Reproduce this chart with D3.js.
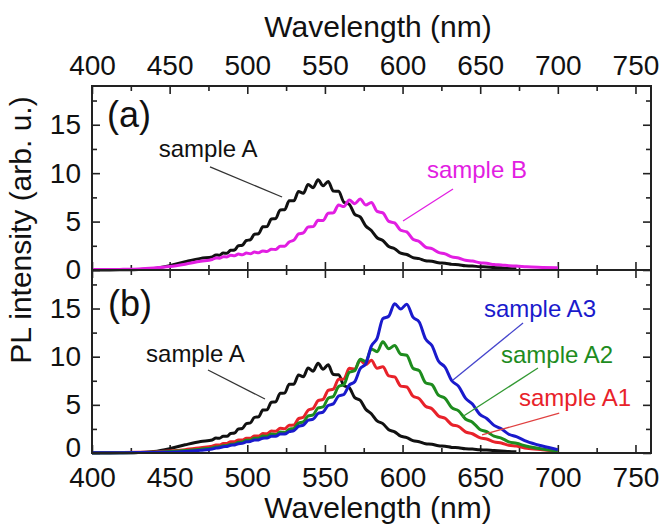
<!DOCTYPE html>
<html>
<head>
<meta charset="utf-8">
<script src="https://cdn.jsdelivr.net/npm/d3@7"></script>
<style>
  body { margin: 0; background: #fff; }
  svg text { font-family: "Liberation Sans", Arial, sans-serif; }
</style>
</head>
<body>
<script>
//Data: wavelength grid (nm), points placed on fringe maxima/minima in the ripple region
const wavelength = [400, 410, 420, 430, 440, 450, 460, 470,
  477.4, 479.8, 482.1, 484.5, 486.9, 489.3, 491.8, 494.3, 496.8, 499.4,
  502.0, 504.6, 507.3, 510.0, 512.7, 515.5, 518.3, 521.2, 524.1, 527.0,
  530.0, 533.0, 536.1, 539.2, 542.4, 545.6, 548.8, 552.1, 555.4, 558.8,
  562.2, 565.7, 569.2, 572.7, 576.3, 579.9, 583.6, 587.3, 591.1, 594.9,
  598.8, 602.7, 606.7, 610.7, 614.8, 618.9, 623.1, 627.4, 631.7, 636.1,
  640.5, 645.0, 649.6, 654.2, 658.9, 663.6, 668.4, 673.3,
  680, 690, 700];

//PL intensity (arb. u.)
const sampleA = [0, 0, 0.02, 0.05, 0.15, 0.45, 0.85, 1.2,
  1.35, 1.56, 1.52, 1.75, 1.73, 2.03, 2.07, 2.5, 2.55, 3.05,
  3.12, 3.7, 3.75, 4.46, 4.48, 5.27, 5.32, 6.2, 6.22, 7.15,
  7.15, 8.1, 7.92, 8.82, 8.5, 9.32, 8.7, 9.15, 8.15, 8.12,
  7.0, 6.78, 5.75, 5.48, 4.55, 4.08, 3.33, 3.05, 2.42, 2.2,
  1.74, 1.6, 1.28, 1.17, 0.95, 0.9, 0.75, 0.7, 0.58, 0.54,
  0.43, 0.41, 0.34, 0.31, 0.25, 0.22, 0.16, 0.13,
  null, null, null];

const sampleB = [0.05, 0.05, 0.07, 0.1, 0.2, 0.35, 0.6, 0.9,
  1.08, 1.25, 1.22, 1.38, 1.35, 1.53, 1.48, 1.64, 1.57, 1.75,
  1.68, 1.85, 1.78, 1.97, 1.9, 2.14, 2.12, 2.45, 2.46, 2.9,
  3.08, 3.72, 3.83, 4.45, 4.48, 5.13, 5.1, 5.85, 5.9, 6.7,
  6.55, 7.22, 6.85, 7.32, 6.72, 6.98, 6.05, 5.9, 5.02, 4.86,
  4.1, 3.93, 3.18, 2.95, 2.37, 2.2, 1.82, 1.67, 1.36, 1.24,
  1.0, 0.93, 0.75, 0.69, 0.56, 0.52, 0.44, 0.41,
  0.33, 0.27, 0.22];

const sampleA1 = [0.05, 0.04, 0.05, 0.07, 0.1, 0.2, 0.35, 0.55,
  0.7, 0.83, 0.84, 0.98, 1.0, 1.17, 1.17, 1.35, 1.34, 1.53,
  1.53, 1.76, 1.76, 2.02, 2.0, 2.28, 2.25, 2.56, 2.51, 2.88,
  2.9, 3.57, 3.72, 4.45, 4.62, 5.43, 5.56, 6.5, 6.62, 7.66,
  7.68, 8.8, 8.7, 9.62, 9.2, 9.62, 8.8, 8.95, 8.0, 7.9,
  6.95, 6.85, 5.9, 5.65, 4.85, 4.6, 3.85, 3.6, 2.95, 2.75,
  2.2, 2.0, 1.6, 1.45, 1.15, 1.03, 0.8, 0.72,
  0.5, 0.33, 0.17];

const sampleA2 = [0.02, 0.02, 0.03, 0.05, 0.08, 0.15, 0.25, 0.4,
  0.53, 0.62, 0.64, 0.76, 0.77, 0.9, 0.93, 1.11, 1.13, 1.33,
  1.33, 1.54, 1.54, 1.76, 1.74, 1.97, 1.92, 2.17, 2.14, 2.46,
  2.56, 3.1, 3.23, 3.85, 3.96, 4.68, 4.78, 5.69, 5.87, 6.91,
  7.1, 8.38, 8.55, 9.73, 9.5, 10.8, 10.52, 11.55, 10.82, 11.15,
  10.25, 10.15, 8.8, 8.55, 7.3, 7.1, 6.0, 5.68, 4.7, 4.38,
  3.53, 3.2, 2.47, 2.22, 1.74, 1.55, 1.16, 1.01,
  0.7, 0.42, 0.2];

const sampleA3 = [0.02, 0.02, 0.03, 0.04, 0.06, 0.08, 0.15, 0.28,
  0.41, 0.51, 0.55, 0.65, 0.68, 0.8, 0.84, 0.97, 1.0, 1.16,
  1.19, 1.35, 1.36, 1.54, 1.55, 1.74, 1.74, 1.96, 1.97, 2.22,
  2.33, 2.76, 2.9, 3.4, 3.52, 4.1, 4.24, 4.94, 5.1, 5.92,
  6.08, 7.05, 7.4, 8.75, 9.25, 11.1, 11.9, 13.95, 14.2, 15.5,
  14.95, 15.45, 14.1, 13.6, 11.85, 11.15, 9.55, 8.9, 7.5, 6.92,
  5.7, 5.08, 4.04, 3.58, 2.87, 2.51, 1.95, 1.69,
  1.2, 0.72, 0.35];

//Tick values
const xMajor = [400, 450, 500, 550, 600, 650, 700, 750];
const xMinor = [425, 475, 525, 575, 625, 675, 725];
const yMajor = [0, 5, 10, 15];
const yMinor = [2.5, 7.5, 12.5, 17.5];

//Layout
const width = 665;
const height = 528;
const left = 92, right = 651;
const topA = 86, mid = 270, bottomB = 453;

const svg = d3.select("body")
  .append("svg")
  .attr("width", width)
  .attr("height", height);

const x = d3.scaleLinear().domain([400, 760]).range([left, right]);
const yA = d3.scaleLinear().domain([0, 19]).range([mid, topA]);
const yB = d3.scaleLinear().domain([0, 19]).range([bottomB, mid]);

const toPoints = vals => wavelength.map((w, i) => [w, vals[i]]);

//Draw one panel: axes with inward ticks, frame and curves
function drawPanel(y, series, topLabels, bottomLabels) {
  const g = svg.append("g");
  const y0 = y.range()[0], y1 = y.range()[1];

  const axes = [
    [d3.axisTop(x).tickValues(xMajor).tickSize(-8).tickPadding(11).tickFormat(topLabels ? d3.format("d") : ""), `translate(0,${y1})`],
    [d3.axisTop(x).tickValues(xMinor).tickSize(-5).tickFormat(""), `translate(0,${y1})`],
    [d3.axisBottom(x).tickValues(xMajor).tickSize(-8).tickPadding(14).tickFormat(bottomLabels ? d3.format("d") : ""), `translate(0,${y0})`],
    [d3.axisBottom(x).tickValues(xMinor).tickSize(-5).tickFormat(""), `translate(0,${y0})`],
    [d3.axisLeft(y).tickValues(yMajor).tickSize(-8).tickPadding(11), `translate(${left},0)`],
    [d3.axisLeft(y).tickValues(yMinor).tickSize(-5).tickFormat(""), `translate(${left},0)`],
    [d3.axisRight(y).tickValues(yMajor).tickSize(-8).tickFormat(""), `translate(${right},0)`],
    [d3.axisRight(y).tickValues(yMinor).tickSize(-5).tickFormat(""), `translate(${right},0)`]
  ];
  axes.forEach(([ax, tr]) => {
    const a = g.append("g")
      .attr("transform", tr)
      .call(ax.tickSizeOuter(0));
    a.select(".domain").remove();
    a.selectAll("line").attr("stroke", "#222").attr("stroke-width", 1.6);
    a.selectAll("text")
      .attr("font-size", 28)
      .attr("fill", "#111")
      .attr("font-family", '"Liberation Sans", Arial, sans-serif');
  });

  const line = d3.line()
    .defined(d => d[1] != null)
    .x(d => x(d[0]))
    .y(d => y(d[1]))
    .curve(d3.curveMonotoneX);

  g.selectAll("path.curve")
    .data(series)
    .join("path")
    .attr("class", "curve")
    .attr("d", s => line(toPoints(s.values)))
    .attr("fill", "none")
    .attr("stroke", s => s.color)
    .attr("stroke-width", 3)
    .attr("stroke-linejoin", "round");

  g.append("rect")
    .attr("x", left)
    .attr("y", y1)
    .attr("width", right - left)
    .attr("height", y0 - y1)
    .attr("fill", "none")
    .attr("stroke", "#222")
    .attr("stroke-width", 2);
  return g;
}

const black = "#111111", magenta = "#e21ee2", red = "#e8222a", green = "#1e8c1e", blue = "#1a1acc";

const gA = drawPanel(yA, [
  { values: sampleA, color: black },
  { values: sampleB, color: magenta }
], true, false);

const gB = drawPanel(yB, [
  { values: sampleA, color: black },
  { values: sampleA1, color: red },
  { values: sampleA2, color: green },
  { values: sampleA3, color: blue }
], false, true);

//lift the bottom "0" a little so it clears the "400" below it
gB.selectAll(".tick text").filter(d => d === 0 && yMajor.includes(d)).attr("dy", "0.12em");

//Annotations in data units: text anchor point and leader line
const notesA = [
  { text: "sample A", color: black, line: "#333", tx: 443, ty: 11.7, l: [476, 10.64, 522.4, 7.54] },
  { text: "sample B", color: magenta, line: magenta, tx: 615.7, ty: 9.5, l: [632.5, 8.36, 600.3, 5.06] }
];
const notesB = [
  { text: "sample A", color: black, line: "#333", tx: 434.8, ty: 9.45, l: [474.7, 8.62, 511.4, 5.61] },
  { text: "sample A3", color: blue, line: "#4444cc", tx: 652.4, ty: 14.12, l: [677.6, 13.5, 632.5, 7.58] },
  { text: "sample A2", color: green, line: "#339933", tx: 663.4, ty: 9.34, l: [687.2, 8.82, 638.3, 3.74] },
  { text: "sample A1", color: red, line: "#e04040", tx: 675, ty: 4.88, l: [700.9, 4.15, 651.2, 1.87] }
];

function drawNotes(g, y, notes) {
  notes.forEach(n => {
    g.append("line")
      .attr("x1", x(n.l[0])).attr("y1", y(n.l[1]))
      .attr("x2", x(n.l[2])).attr("y2", y(n.l[3]))
      .attr("stroke", n.line)
      .attr("stroke-width", 1.3);
    g.append("text")
      .attr("x", x(n.tx)).attr("y", y(n.ty))
      .attr("font-size", 24)
      .attr("fill", n.color)
      .text(n.text);
  });
}
drawNotes(gA, yA, notesA);
drawNotes(gB, yB, notesB);

//Panel letters
gA.append("text").attr("x", x(409.7)).attr("y", yA(14.77)).attr("font-size", 36).attr("fill", "#111").text("(a)");
gB.append("text").attr("x", x(410.3)).attr("y", yB(14.22)).attr("font-size", 36).attr("fill", "#111").text("(b)");

//Axis titles
svg.append("text")
  .attr("x", 378).attr("y", 37)
  .attr("text-anchor", "middle")
  .attr("font-size", 30)
  .attr("fill", "#111")
  .text("Wavelength (nm)");

svg.append("text")
  .attr("x", 378).attr("y", 518)
  .attr("text-anchor", "middle")
  .attr("font-size", 30)
  .attr("fill", "#111")
  .text("Wavelength (nm)");

svg.append("text")
  .attr("transform", "translate(31,230) rotate(-90)")
  .attr("text-anchor", "middle")
  .attr("font-size", 30)
  .attr("fill", "#111")
  .text("PL intensity (arb. u.)");
</script>
</body>
</html>
